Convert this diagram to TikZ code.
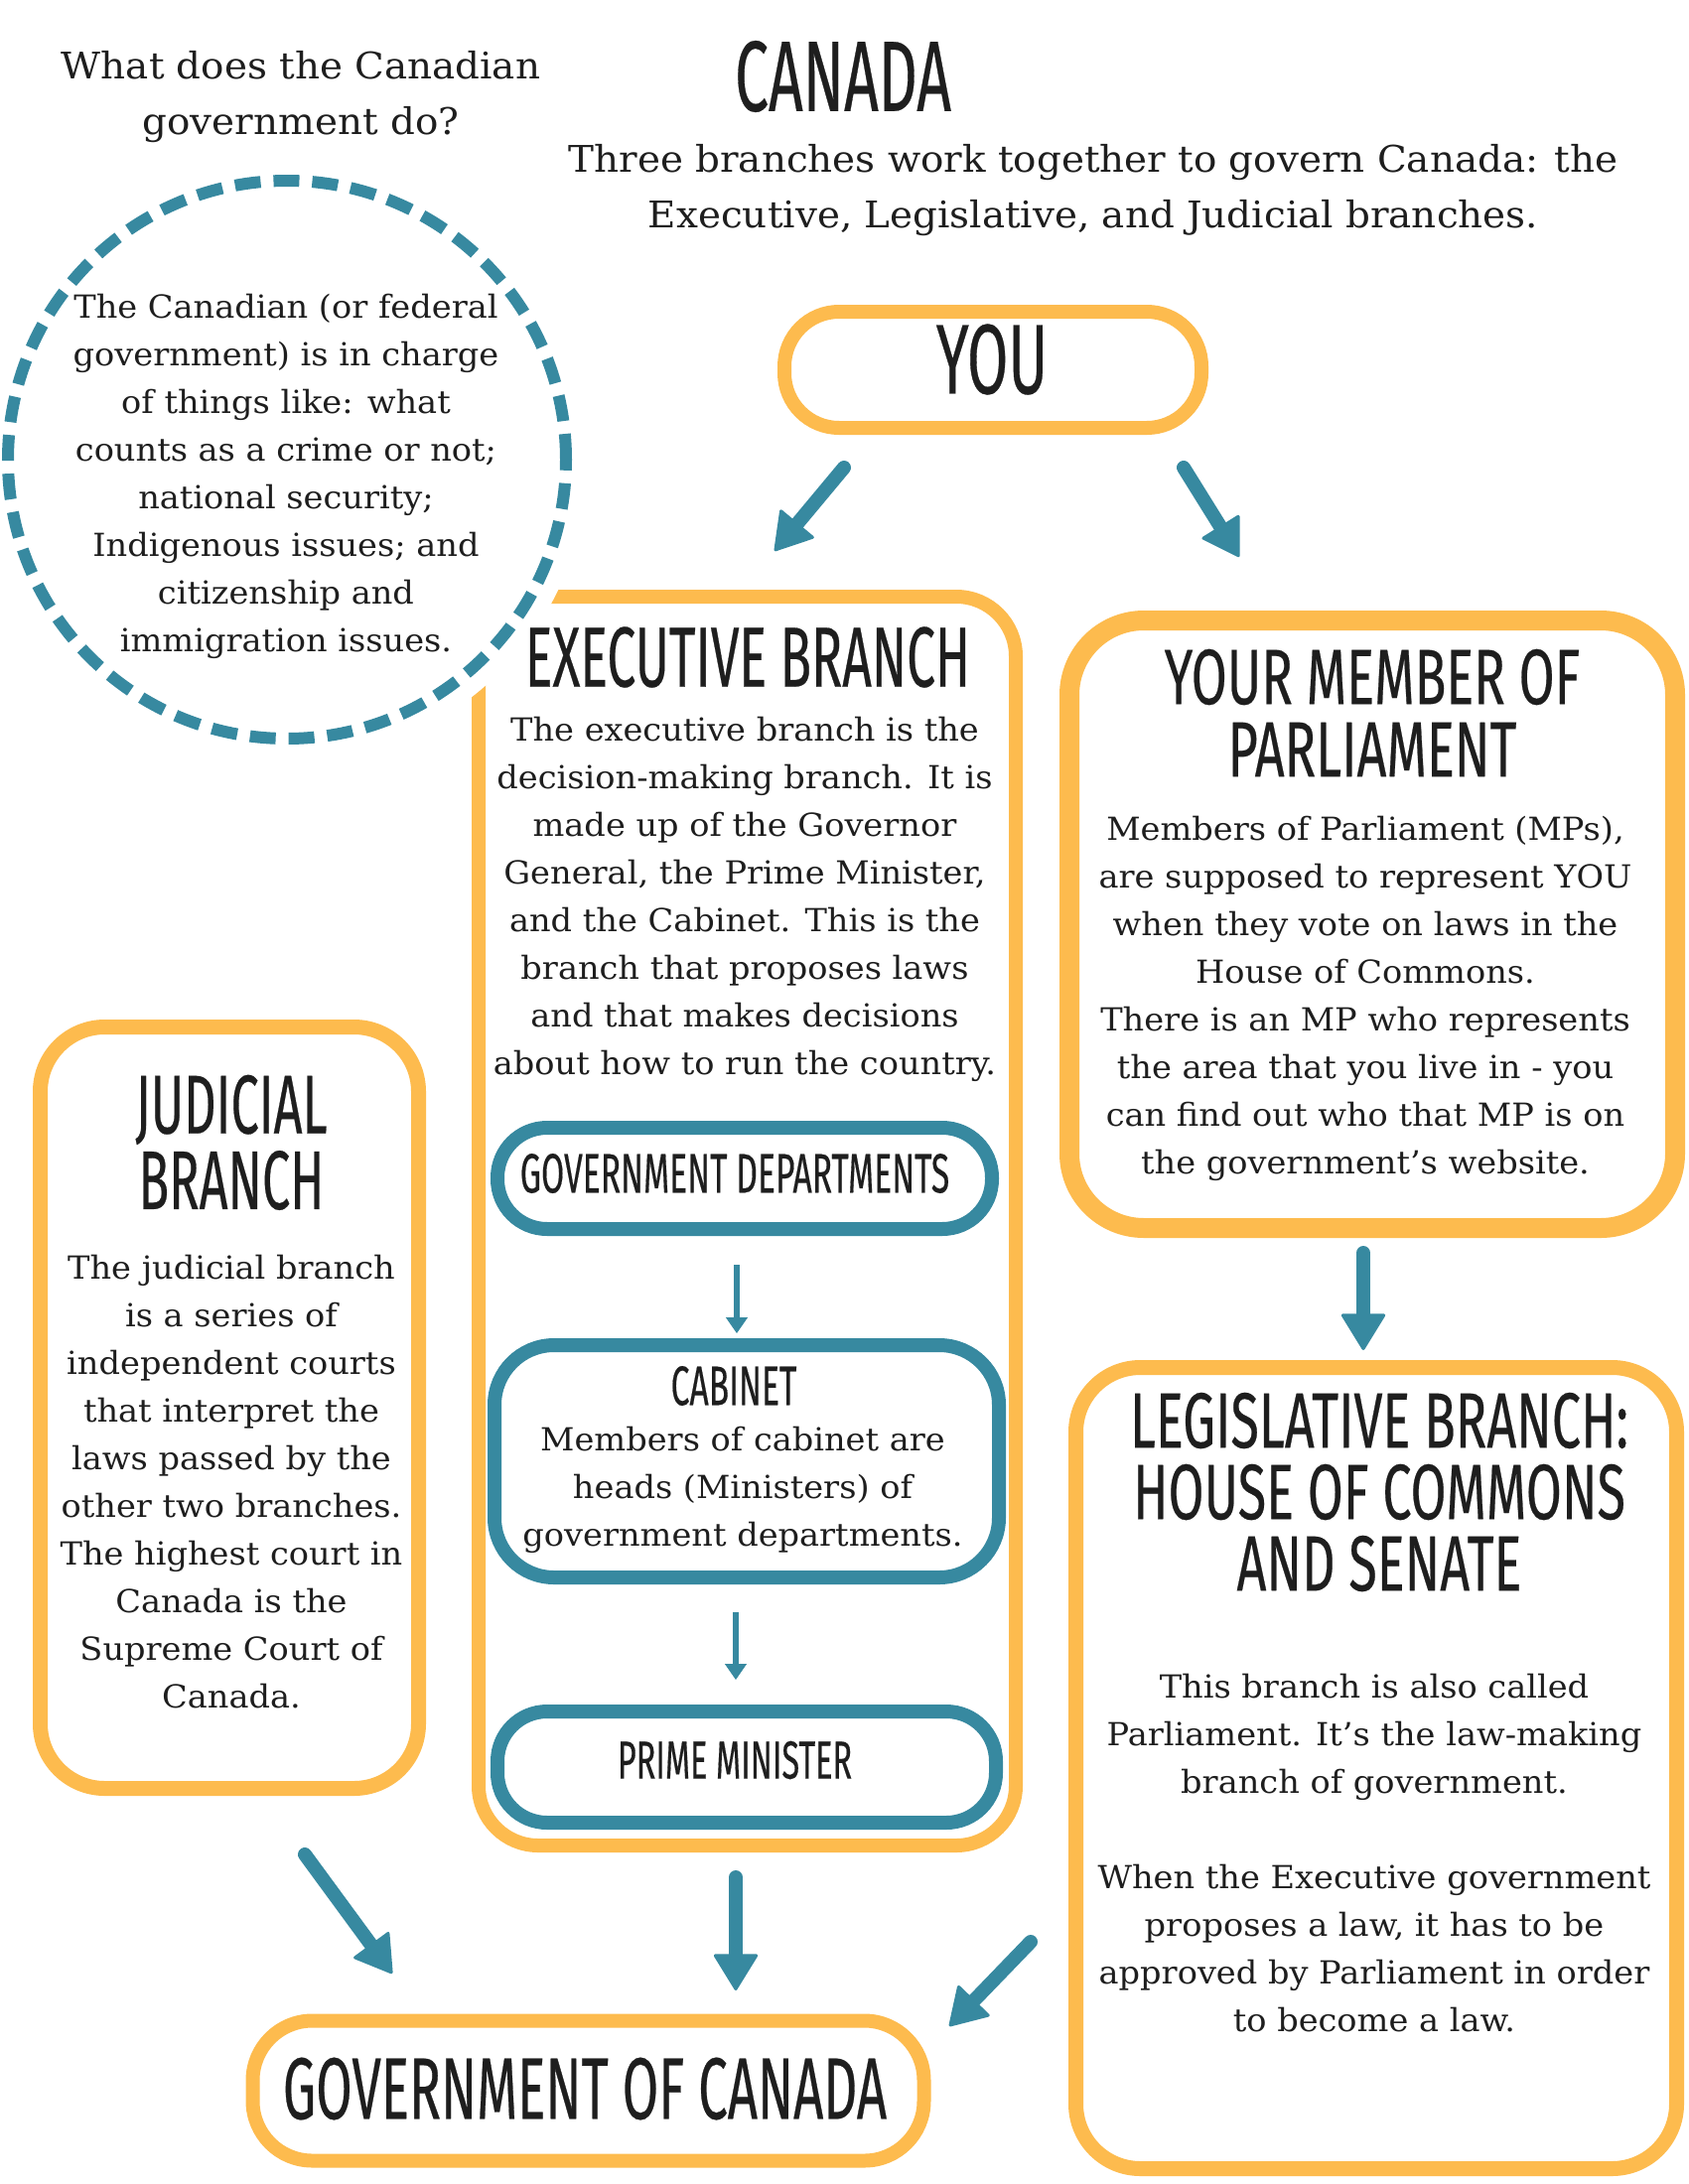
\documentclass[tikz,border=0pt]{standalone}
\usepackage{fontspec}
\setmainfont{DejaVu Serif}[FakeStretch=1.05]
\newfontfamily\hfont[FakeStretch=0.6,FakeBold=0.3]{Fira Sans}
\newfontfamily\hfontw[FakeStretch=0.66,FakeBold=0.3]{Fira Sans}
\usetikzlibrary{arrows.meta}
\definecolor{orng}{RGB}{253,187,78}
\definecolor{tealc}{RGB}{55,137,160}
\definecolor{ink}{RGB}{30,30,30}
\begin{document}
\begin{tikzpicture}[x=1pt,y=-1pt,
  obox/.style={draw=orng, line width=14pt, rounded corners=#1, fill=white, inner sep=0pt},
  obox/.default=60pt,
  tbox/.style={draw=tealc, line width=14pt, rounded corners=#1, fill=white, inner sep=0pt},
  tbox/.default=50pt,
  bigarrow/.style={draw=tealc, fill=tealc, line width=14pt, line cap=round,
    -{Triangle[width=46pt,length=38pt,line width=3pt,round]}},
  smallarrow/.style={draw=tealc, fill=tealc, line width=6pt,
    -{Triangle[width=22pt,length=16pt,line width=1pt]}},
  body/.style={text=ink, align=center, inner sep=0pt, font=\fontsize{32}{48}\selectfont},
  lead/.style={text=ink, align=center, inner sep=0pt, font=\fontsize{37}{56}\selectfont},
  head/.style={text=ink, align=center, inner sep=0pt, font=\hfont\fontsize{#1}{#1}\selectfont},
  head/.default=82,
  headw/.style={text=ink, align=center, inner sep=0pt, font=\hfontw\fontsize{#1}{#1}\selectfont},
  headw/.default=79
]
\useasboundingbox (0,0) rectangle (1700,2200);
\fill[white] (0,0) rectangle (1700,2200);

% titles
\node[lead] (q) at (303,98) {What does the Canadian\\government do?};
\node[head=101] (title) at (849,77) {CANADA};
\node[lead] (intro) at (1101,192) {Three branches work together to govern Canada: the\\Executive, Legislative, and Judicial branches.};

% boxes
\node[obox=55pt, minimum width=420pt, minimum height=117pt] (you) at (1000,372.5) {};
\node[obox=60pt, minimum width=541pt, minimum height=1258pt] (exec) at (752.5,1230) {};
\node[obox=75pt, line width=20pt, minimum width=610pt, minimum height=612pt] (mp) at (1382,931) {};
\node[obox=65pt, line width=15pt, minimum width=605pt, minimum height=807pt] (leg) at (1386,1781) {};
\node[obox=65pt, line width=15pt, minimum width=381pt, minimum height=767pt] (jud) at (231,1418) {};
\node[obox=60pt, minimum width=676pt, minimum height=141pt] (gov) at (592.5,2106) {};
\node[tbox=50pt, minimum width=498pt, minimum height=102pt] (dept) at (750,1187) {};
\node[tbox=60pt, minimum width=508pt, minimum height=234pt] (cab) at (752,1472) {};
\node[tbox=50pt, minimum width=502pt, minimum height=112pt] (pm) at (752,1780) {};

% info circle
\fill[white] (289,463) circle (303);
\node[circle, draw=tealc, line width=12pt, dash pattern=on 26pt off 13pt, minimum size=562pt, inner sep=0pt] (info) at (289,463) {};
\node[body] (infotext) at (288,480) {The Canadian (or federal\\government) is in charge\\of things like: what\\counts as a crime or not;\\national security;\\Indigenous issues; and\\citizenship and\\immigration issues.};

% box texts
\node[head=100] (youtxt) at (999,362) {YOU};
\node[head=86] (exechead) at (753,662) {EXECUTIVE BRANCH};
\node[body] (exectext) at (750,906) {The executive branch is the\\decision-making branch. It is\\made up of the Governor\\General, the Prime Minister,\\and the Cabinet. This is the\\branch that proposes laws\\and that makes decisions\\about how to run the country.};
\node[headw] (mphead1) at (1382,682) {YOUR MEMBER OF};
\node[headw] (mphead2) at (1382,755) {PARLIAMENT};
\node[body] (mptext) at (1375,1005.5) {Members of Parliament (MPs),\\are supposed to represent YOU\\when they vote on laws in the\\House of Commons.\\There is an MP who represents\\the area that you live in - you\\can find out who that MP is on\\the government's website.};
\node[head=84] (judhead1) at (233,1118) {JUDICIAL};
\node[head=84] (judhead2) at (233,1189) {BRANCH};
\node[body] (judtext) at (233,1493) {The judicial branch\\is a series of\\independent courts\\that interpret the\\laws passed by the\\other two branches.\\The highest court in\\Canada is the\\Supreme Court of\\Canada.};
\node[headw] (leghead1) at (1389,1431) {LEGISLATIVE BRANCH:};
\node[headw] (leghead2) at (1389,1503) {HOUSE OF COMMONS};
\node[headw] (leghead3) at (1389,1575) {AND SENATE};
\node[body] (legtext) at (1384,1866.5) {This branch is also called\\Parliament. It's the law-making\\branch of government.\\[48pt]When the Executive government\\proposes a law, it has to be\\approved by Parliament in order\\to become a law.};
\node[head=56] (depttxt) at (740,1182) {GOVERNMENT DEPARTMENTS};
\node[head=56] (cabhead) at (739,1396) {CABINET};
\node[body] (cabtext) at (748,1501) {Members of cabinet are\\heads (Ministers) of\\government departments.};
\node[head=54] (pmtxt) at (740,1773) {PRIME MINISTER};
\node[head=88] (govtxt) at (589,2104) {GOVERNMENT OF CANADA};

% arrow end points
\coordinate (a1s) at (850,471);  \coordinate (a1e) at (780,555);
\coordinate (a2s) at (1192,471); \coordinate (a2e) at (1248,561);
\coordinate (a3s) at (1373,1262); \coordinate (a3e) at (1373,1360);
\coordinate (a4s) at (307,1868); \coordinate (a4e) at (395,1988);
\coordinate (a5s) at (741,1891); \coordinate (a5e) at (741,2005);
\coordinate (a6s) at (1038,1956); \coordinate (a6e) at (956,2041);
\coordinate (b1s) at (742,1274); \coordinate (b1e) at (742,1343);
\coordinate (b2s) at (741,1624); \coordinate (b2e) at (741,1692);

\draw[bigarrow] (a1s) -- (a1e);
\draw[bigarrow] (a2s) -- (a2e);
\draw[bigarrow] (a3s) -- (a3e);
\draw[bigarrow] (a4s) -- (a4e);
\draw[bigarrow] (a5s) -- (a5e);
\draw[bigarrow] (a6s) -- (a6e);
\draw[smallarrow] (b1s) -- (b1e);
\draw[smallarrow] (b2s) -- (b2e);
\end{tikzpicture}
\end{document}
